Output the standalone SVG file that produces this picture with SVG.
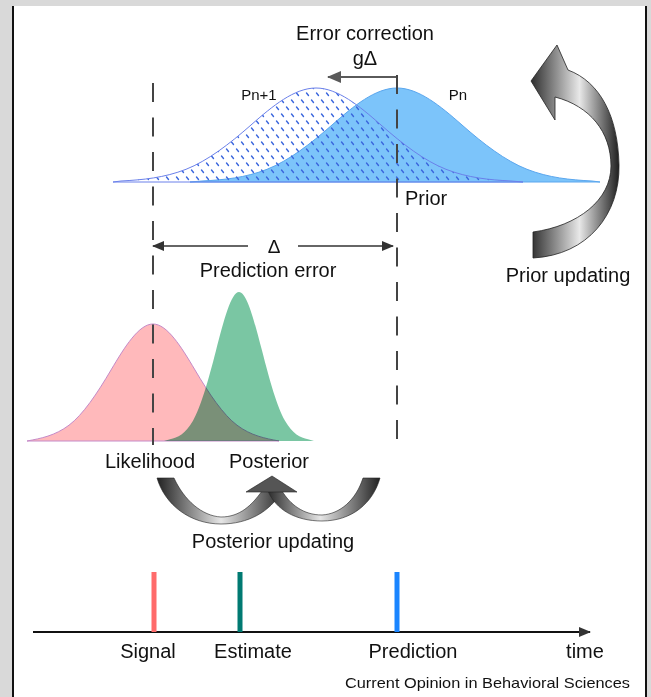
<svg xmlns="http://www.w3.org/2000/svg" width="651" height="697" viewBox="0 0 651 697">
<defs>
<style>
.t{font-family:"Liberation Sans",Arial,sans-serif;fill:#111;}
.lbl{font-size:20px;}
.dash{stroke:#444;stroke-width:2;stroke-dasharray:19 15.5;fill:none;}
</style>
<pattern id="hatch" patternUnits="userSpaceOnUse" width="10" height="14">
<path d="M1.5,2 L3.5,4.5 M6.5,9 L8.5,11.5" stroke="#3a66dd" stroke-width="1.4" stroke-linecap="round"/>
</pattern>
<linearGradient id="gPrior" gradientUnits="userSpaceOnUse" x1="530" y1="0" x2="620" y2="0">
<stop offset="0" stop-color="#2a2a2a"/>
<stop offset="0.55" stop-color="#e8e8e8"/>
<stop offset="1" stop-color="#1a1a1a"/>
</linearGradient>
<linearGradient id="gPostL" gradientUnits="userSpaceOnUse" x1="157" y1="0" x2="285" y2="0">
<stop offset="0" stop-color="#222"/>
<stop offset="0.5" stop-color="#e6e6e6"/>
<stop offset="1" stop-color="#222"/>
</linearGradient>
<linearGradient id="gPostR" gradientUnits="userSpaceOnUse" x1="270" y1="0" x2="382" y2="0">
<stop offset="0" stop-color="#333"/>
<stop offset="0.45" stop-color="#e6e6e6"/>
<stop offset="1" stop-color="#1a1a1a"/>
</linearGradient>
<marker id="ah" viewBox="0 0 12 10" refX="11" refY="5" markerWidth="12" markerHeight="10" markerUnits="userSpaceOnUse" orient="auto">
<path d="M0,0 L12,5 L0,10 Z" fill="#333"/>
</marker>
<marker id="ahg" viewBox="0 0 14 12" refX="13" refY="6" markerWidth="14" markerHeight="12" markerUnits="userSpaceOnUse" orient="auto">
<path d="M0,0 L14,6 L0,12 Z" fill="#5a5a5a"/>
</marker>
</defs>

<!-- background and panel -->
<rect x="0" y="0" width="651" height="697" fill="#d9d9d9"/>
<rect x="12" y="6" width="635" height="691" fill="#ffffff"/>
<line x1="13" y1="6" x2="13" y2="697" stroke="#111" stroke-width="2"/>
<line x1="646" y1="6" x2="646" y2="697" stroke="#111" stroke-width="2"/>

<!-- Prior distributions -->
<g id="prior-pn">
<path d="M190,182 L202,181 C223.6,179.9 245.4,177.8 267,169.3 C288.6,160.8 310.4,144 332,125 C353.6,106 375.4,88 397,88 C418.6,88 440.4,106 462,125 C483.6,144 505.4,160.8 527,169.3 C548.6,177.8 570.4,179.9 592,181 L600,182 Z" fill="#7cc4fa" stroke="#5aa6ee" stroke-width="1"/>
<text class="t" x="458" y="100" font-size="15" text-anchor="middle">Pn</text>
</g>
<g id="prior-pn1">
<path d="M113,182 L121,181 C142.6,179.9 164.4,177.8 186,169.3 C207.6,160.8 229.4,144 251,125 C272.6,106 294.4,88 316,88 C337.6,88 359.4,106 381,125 C402.6,144 424.4,160.8 446,169.3 C467.6,177.8 489.4,179.9 511,181 L523,182 Z" fill="url(#hatch)" stroke="#6a80ea" stroke-width="1"/>
<text class="t" x="259" y="100" font-size="15" text-anchor="middle">Pn+1</text>
</g>

<!-- Likelihood and posterior -->
<g id="likelihood">
<path d="M27,441 C41,438.4 55,435.7 69,425.2 C83,414.6 97,393.7 111,370 C125,346.4 139,324 153,324 C167,324 181,346.4 195,370 C209,393.7 223,414.6 237,425.2 C251,435.7 265,438.4 279,441 Z" fill="#ffb9bb" stroke="#c58ac8" stroke-width="1"/>
<text class="t lbl" x="150" y="468" text-anchor="middle">Likelihood</text>
</g>
<g id="posterior">
<path d="M164,441 L170,439.3 C177.7,437.7 185.3,434.3 193,420.8 C200.7,407.4 208.3,380.8 216,350.6 C223.7,320.5 231.3,292 239,292 C246.7,292 254.3,320.5 262,350.6 C269.7,380.8 277.3,407.4 285,420.8 C292.7,434.3 300.3,437.7 308,439.3 L314,441 Z" fill="#7ac6a3" style="mix-blend-mode:multiply"/>
<text class="t lbl" x="269" y="468" text-anchor="middle">Posterior</text>
</g>

<!-- connectors / guides -->
<g id="connectors">
<line class="dash" x1="153" y1="83" x2="153" y2="445"/>
<line class="dash" x1="397" y1="75" x2="397" y2="440"/>
<line x1="396" y1="77" x2="328" y2="77" stroke="#5a5a5a" stroke-width="2" marker-end="url(#ahg)"/>
<line x1="248" y1="246" x2="153" y2="246" stroke="#333" stroke-width="1.5" marker-end="url(#ah)"/>
<line x1="298" y1="246" x2="393" y2="246" stroke="#333" stroke-width="1.5" marker-end="url(#ah)"/>
</g>

<g id="error-correction">
<text class="t lbl" x="365" y="40" text-anchor="middle">Error correction</text>
<text class="t lbl" x="365" y="65" text-anchor="middle">gΔ</text>
</g>
<g id="prior-label"><text class="t lbl" x="405" y="205">Prior</text></g>
<g id="prediction-error">
<text class="t" x="274" y="253" font-size="19" text-anchor="middle">Δ</text>
<text class="t lbl" x="268" y="277" text-anchor="middle">Prediction error</text>
</g>

<!-- Prior updating arrow -->
<g id="prior-updating">
<path d="M557,45 L531,81 L555,120 L555,97 C590,106 611,132 611,166 C611,200 578,226 533,232 L533,258 C588,255 620,214 619,165 C618,116 600,82 568,70 Z" fill="url(#gPrior)" stroke="#222" stroke-width="0.8"/>
<text class="t lbl" x="568" y="282" text-anchor="middle">Prior updating</text>
</g>

<!-- Posterior updating arrows -->
<g id="posterior-updating">
<path d="M157,478 L174,478 C184,500 202,516 221,517 C240,517 252,505 262,491 L282,491 C270,512 248,524 221,524 C190,524 165,505 157,478 Z" fill="url(#gPostL)" stroke="#222" stroke-width="0.6"/>
<path d="M380,478 L363,478 C356,500 340,514 322,515 C303,515 290,504 282,491 L268,491 C276,510 296,521 322,521 C352,521 373,503 380,478 Z" fill="url(#gPostR)" stroke="#222" stroke-width="0.6"/>
<path d="M246,492 L272,476 L297,492 Z" fill="#555" stroke="#222" stroke-width="0.6"/>
<text class="t lbl" x="273" y="548" text-anchor="middle">Posterior updating</text>
</g>

<!-- Timeline -->
<g id="timeline">
<line x1="33" y1="632" x2="590" y2="632" stroke="#111" stroke-width="2" marker-end="url(#ah)"/>
<rect x="151.5" y="572" width="5" height="60" fill="#ff6b6b"/>
<rect x="237.5" y="572" width="5" height="60" fill="#007a72"/>
<rect x="394.5" y="572" width="5" height="60" fill="#1a85ff"/>
<text class="t lbl" x="148" y="658" text-anchor="middle">Signal</text>
<text class="t lbl" x="253" y="658" text-anchor="middle">Estimate</text>
<text class="t lbl" x="413" y="658" text-anchor="middle">Prediction</text>
<text class="t lbl" x="585" y="658" text-anchor="middle">time</text>
<text class="t" x="630" y="688" font-size="15" text-anchor="end" textLength="285" lengthAdjust="spacingAndGlyphs">Current Opinion in Behavioral Sciences</text>
</g>
</svg>
